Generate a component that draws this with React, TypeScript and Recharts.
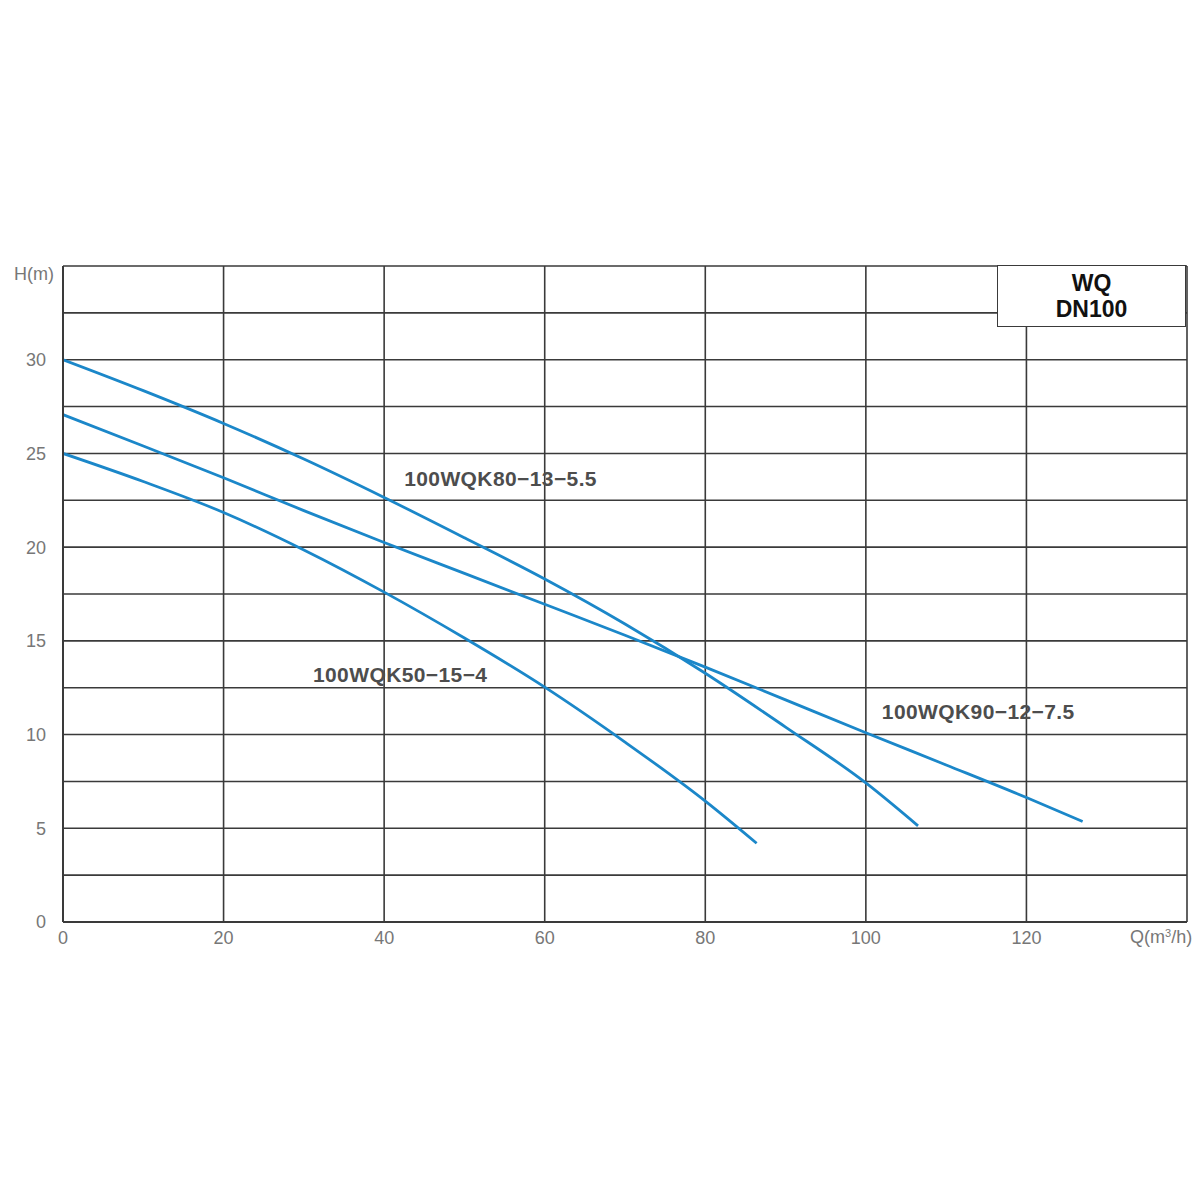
import React from 'react';
import { LineChart, Line, XAxis, YAxis, ReferenceLine, ReferenceDot } from 'recharts';

const curveA = [
  { q: 0, h: 30 }, { q: 10, h: 28.35 }, { q: 20, h: 26.6 }, { q: 30, h: 24.7 }, { q: 40, h: 22.65 },
  { q: 50, h: 20.5 }, { q: 60, h: 18.3 }, { q: 70, h: 15.9 }, { q: 80, h: 13.27 }, { q: 90, h: 10.4 },
  { q: 100, h: 7.42 }, { q: 106.5, h: 5.13 },
];
const curveB = [
  { q: 0, h: 27.07 }, { q: 10, h: 25.4 }, { q: 20, h: 23.7 }, { q: 30, h: 21.95 }, { q: 40, h: 20.25 },
  { q: 50, h: 18.6 }, { q: 60, h: 16.95 }, { q: 70, h: 15.3 }, { q: 80, h: 13.6 }, { q: 90, h: 11.85 },
  { q: 100, h: 10.1 }, { q: 110, h: 8.38 }, { q: 120, h: 6.64 }, { q: 127, h: 5.36 },
];
const curveC = [
  { q: 0, h: 25 }, { q: 10, h: 23.5 }, { q: 20, h: 21.85 }, { q: 30, h: 19.85 }, { q: 40, h: 17.6 },
  { q: 50, h: 15.15 }, { q: 60, h: 12.53 }, { q: 70, h: 9.6 }, { q: 80, h: 6.45 }, { q: 86.4, h: 4.2 },
];

const curveLabels = [
  { q: 54.5, h: 23.65, text: '100WQK80\u221213\u22125.5' },
  { q: 42, h: 13.2, text: '100WQK50\u221215\u22124' },
  { q: 114, h: 11.25, text: '100WQK90\u221212\u22127.5' },
];

const xTicks = [0, 20, 40, 60, 80, 100, 120];
const yTicks = [0, 5, 10, 15, 20, 25, 30];
const vGrid = [20, 40, 60, 80, 100, 120, 140];
const hGrid = [2.5, 5, 7.5, 10, 12.5, 15, 17.5, 20, 22.5, 25, 27.5, 30, 32.5, 35];

const FONT = '"Liberation Sans", Arial, sans-serif';
const GRID = '#3a3a3a';
const BLUE = '#1b87c9';

export default function App() {
  return (
    <div style={{ position: 'relative', width: 1200, height: 1100, fontFamily: FONT }}>
      <LineChart width={1200} height={1100} margin={{ top: 258, right: 21, left: 0, bottom: 156 }}>
        <XAxis
          dataKey="q"
          type="number"
          domain={[0, 140]}
          ticks={xTicks}
          allowDataOverflow
          tickSize={0}
          tickMargin={9}
          axisLine={{ stroke: GRID, strokeWidth: 2 }}
          tick={{ fill: '#777', fontSize: 18, fontFamily: FONT }}
          height={30}
        />
        <YAxis
          dataKey="h"
          type="number"
          domain={[0, 35]}
          ticks={yTicks}
          allowDataOverflow
          tickSize={0}
          tickMargin={17}
          width={55}
          axisLine={{ stroke: GRID, strokeWidth: 2 }}
          tick={{ fill: '#777', fontSize: 18, fontFamily: FONT }}
        />
        {vGrid.map((v) => (
          <ReferenceLine key={'v' + v} x={v} stroke={GRID} strokeWidth={1.6} ifOverflow="extendDomain" />
        ))}
        {hGrid.map((v) => (
          <ReferenceLine key={'h' + v} y={v} stroke={GRID} strokeWidth={1.6} ifOverflow="extendDomain" />
        ))}
        <Line data={curveA} dataKey="h" type="monotone" stroke={BLUE} strokeWidth={2.8} dot={false} isAnimationActive={false} />
        <Line data={curveB} dataKey="h" type="monotone" stroke={BLUE} strokeWidth={2.8} dot={false} isAnimationActive={false} />
        <Line data={curveC} dataKey="h" type="monotone" stroke={BLUE} strokeWidth={2.8} dot={false} isAnimationActive={false} />
        {curveLabels.map((l) => (
          <ReferenceDot
            key={l.text}
            x={l.q}
            y={l.h}
            r={0}
            fill="none"
            stroke="none"
            label={{
              value: l.text,
              position: 'center',
              fill: '#4d4d4d',
              fontSize: 21,
              fontWeight: 'bold',
              fontFamily: FONT,
              letterSpacing: 0.4,
            }}
          />
        ))}
      </LineChart>
      <div style={{ position: 'absolute', left: 0, top: 256, width: 46, textAlign: 'right', fontSize: 18, color: '#777', lineHeight: '20px' }}>
        H(m)
      </div>
      <div style={{ position: 'absolute', left: 1122, top: 919, fontSize: 18, color: '#777', lineHeight: '20px', whiteSpace: 'nowrap' }}>
        Q(m<sup style={{ fontSize: 11, verticalAlign: 'top', lineHeight: '12px' }}>3</sup>/h)
      </div>
      <div
        style={{
          position: 'absolute',
          left: 989,
          top: 257,
          width: 189,
          height: 62,
          background: '#fff',
          border: `1.6px solid ${GRID}`,
          boxSizing: 'border-box',
          display: 'flex',
          flexDirection: 'column',
          alignItems: 'center',
          justifyContent: 'center',
          fontWeight: 'bold',
          fontSize: 23,
          lineHeight: '26px',
          color: '#111',
        }}
      >
        <div>WQ</div>
        <div>DN100</div>
      </div>
    </div>
  );
}
